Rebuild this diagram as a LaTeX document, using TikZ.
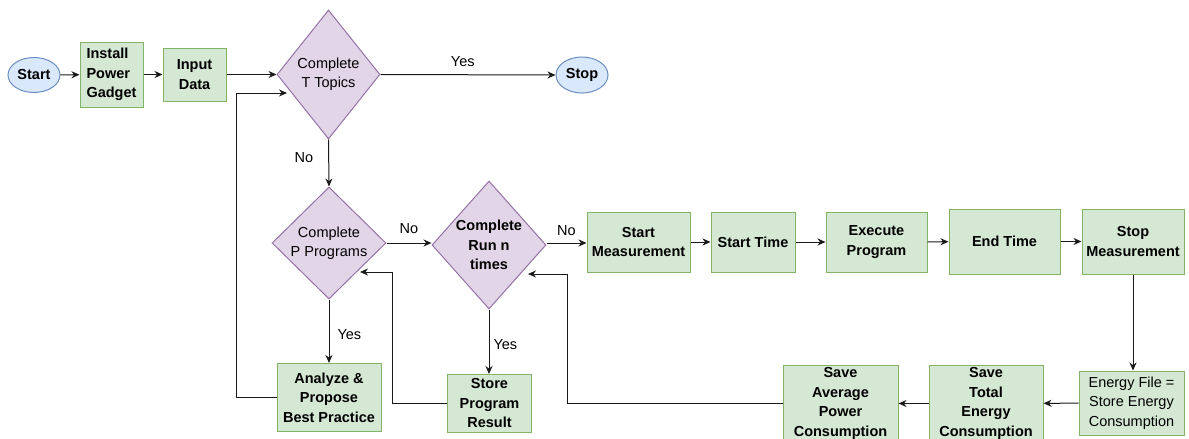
\documentclass[tikz,border=0pt]{standalone}
\usepackage{fontspec}
\setmainfont{Liberation Sans}
\usetikzlibrary{shapes.geometric,arrows.meta}
\definecolor{gfill}{HTML}{D5E8D4}
\definecolor{gline}{HTML}{82B366}
\definecolor{pfill}{HTML}{E1D5E7}
\definecolor{pline}{HTML}{9673A6}
\definecolor{bfill}{HTML}{DAE8FC}
\definecolor{bline}{HTML}{6C8EBF}
\definecolor{edgec}{HTML}{1A1A1A}
\begin{document}
\begin{tikzpicture}[x=1pt,y=-1pt,
  txt/.style={font=\fontsize{14.5}{19.5}\selectfont},
  btxt/.style={font=\fontsize{14.5}{19.5}\selectfont\bfseries},
  box/.style={draw=gline,fill=gfill,line width=1pt,inner sep=0pt,align=center,btxt},
  dia/.style={shape=diamond,draw=pline,fill=pfill,line width=1pt,inner sep=0pt},
  term/.style={shape=ellipse,draw=bline,fill=bfill,line width=1pt,inner sep=0pt,btxt},
  arr/.style={draw=edgec,line width=1pt,-{Stealth[length=8pt,width=7pt]}},
  lab/.style={txt,inner sep=0pt}
]
\useasboundingbox (0,0) rectangle (1189,439);
\clip (0,0) rectangle (1189,439);
\fill[white] (0,0) rectangle (1189,439);

% nodes
\node[term,minimum width=52pt,minimum height=35pt] (start) at (34,75) {Start};
\node[box,align=left,minimum width=63pt,minimum height=65pt] (install) at (111.5,74.5) {Install\\Power\\Gadget};
\node[box,minimum width=63pt,minimum height=53pt] (input) at (194.5,74.5) {Input\\Data};
\node[dia,minimum width=103pt,minimum height=129pt] (topics) at (328.5,74.5) {};
\node[txt,align=center] (topicsT) at (topics) {Complete\\T Topics};
\node[term,minimum width=52pt,minimum height=36pt] (stop) at (582,75) {Stop};

\node[dia,minimum width=114pt,minimum height=112pt] (prog) at (329,243) {};
\node[txt,align=center] (progT) at (prog) {Complete\\P Programs};
\node[dia,minimum width=114pt,minimum height=128pt] (run) at (489,245) {};
\node[btxt,align=center] (runT) at (run) {Complete\\Run n\\times};

\node[box,minimum width=104pt,minimum height=68pt] (analyze) at (329,397.5) {Analyze \&\\Propose\\Best Practice};
\node[box,minimum width=84pt,minimum height=58pt] (store) at (489.5,403.5) {Store\\Program\\Result};

\node[box,minimum width=103pt,minimum height=60pt] (smeas) at (638.5,242) {Start\\Measurement};
\node[box,minimum width=84pt,minimum height=60pt] (stime) at (753,242) {Start Time};
\node[box,minimum width=101pt,minimum height=60pt] (exec) at (876.5,242) {Execute\\Program};
\node[box,minimum width=111pt,minimum height=65pt] (etime) at (1004.5,241.5) {End Time};
\node[box,minimum width=102pt,minimum height=65pt] (stopm) at (1133,241.5) {Stop\\Measurement};

\node[box,txt,minimum width=105pt,minimum height=64pt] (efile) at (1131.5,403) {Energy File =\\Store Energy\\Consumption};
\node[box,minimum width=114pt,minimum height=76pt] (savetot) at (986,403.5) {Save\\Total\\Energy\\Consumption};
\node[box,minimum width=115pt,minimum height=76pt] (saveavg) at (840.5,403.5) {Save\\Average\\Power\\Consumption};

% helper coordinates for loop-back arrows
\coordinate (topin) at (287,93);
\coordinate (prgin) at (360,272);
\coordinate (runin) at (528,274);
\coordinate (c1) at (236,93);
\coordinate (c2) at (392,272);
\coordinate (c3) at (567,274);

% connectors
\draw[arr] (start) -- (install);
\draw[arr] (install) -- (input);
\draw[arr] (input.east) -- (topics.west);
\draw[arr] (topics.east) -- node[lab,pos=0.47,above=8pt] (yes1) {Yes} (stop.west);
\draw[arr] (topics.south) -- node[lab,pos=0.38,left=15pt] (no1) {No} (prog.north);
\draw[arr] (prog.east) -- node[lab,midway,above=9pt] (no2) {No} (run.west |- prog.east);
\draw[arr] (run.east |- prog.east) -- node[lab,midway,above=7pt] (no3) {No} (smeas.west |- prog.east);
\draw[arr] (smeas) -- (stime);
\draw[arr] (stime) -- (exec);
\draw[arr] (exec) -- (etime);
\draw[arr] (etime) -- (stopm);
\draw[arr] (stopm.south) -- (stopm.south |- efile.north);
\draw[arr] (efile) -- (savetot);
\draw[arr] (savetot) -- (saveavg);
\draw[arr] (saveavg.west) -| (c3) -- (runin);
\draw[arr] (prog.south) -- node[lab,pos=0.55,right=8pt] (yes2) {Yes} (analyze.north);
\draw[arr] (run.south) -- node[lab,pos=0.55,right=4pt] (yes3) {Yes} (run.south |- store.north);
\draw[arr] (store.west) -| (c2) -- (prgin);
\draw[arr] (analyze.west) -| (c1) -- (topin);
\end{tikzpicture}
\end{document}
